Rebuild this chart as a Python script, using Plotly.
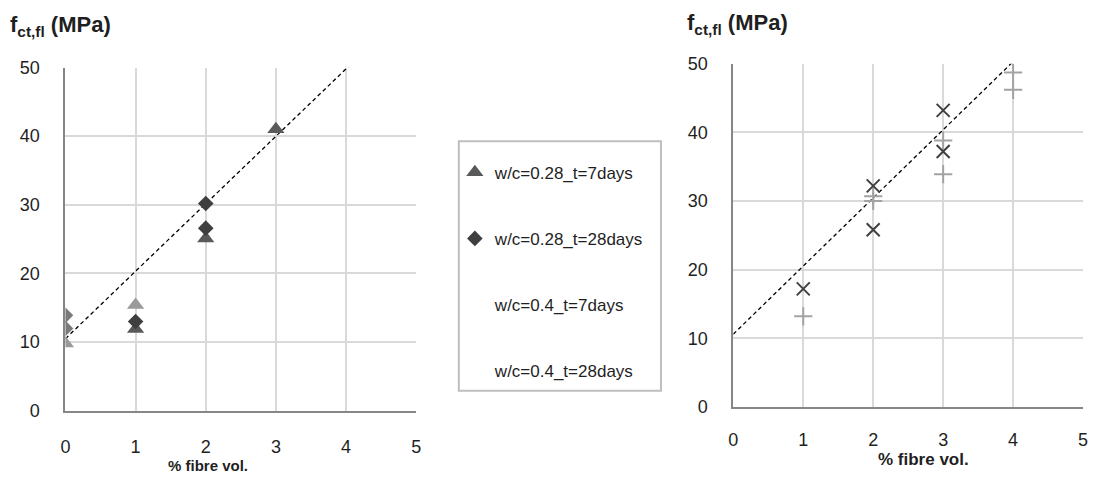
import plotly.graph_objects as go

# ---------------- data ----------------
# Left chart (w/c = 0.28)
tri7_x = [1, 2, 3]
tri7_y = [11.9, 25.1, 41.0]
dia28_x = [1, 2, 2]
dia28_y = [13.0, 26.6, 30.2]
tri7_light_x = [0, 1]
tri7_light_y = [9.8, 15.4]
dia28_light_x = [0, 0]
dia28_light_y = [12.0, 13.9]
fitL_x = [0, 4.05]
fitL_y = [10.5, 50.3]

# Right chart (w/c = 0.4)
x28_x = [1, 2, 2, 3, 3]
x28_y = [17.2, 32.2, 25.8, 43.2, 37.2]
p7_x = [1, 2, 2, 3, 3, 4, 4]
p7_y = [13.2, 30.7, 30.0, 38.8, 33.9, 48.7, 46.2]
fitR_x = [0, 4.0]
fitR_y = [10.6, 50.3]

x_ticks = [0, 1, 2, 3, 4, 5]
y_ticks = [0, 10, 20, 30, 40, 50]
legend_names = ["w/c=0.28_t=7days", "w/c=0.28_t=28days", "w/c=0.4_t=7days", "w/c=0.4_t=28days"]
y_title = "<b>f<sub>ct,fl</sub> (MPa)</b>"
x_title = "<b>% fibre vol.</b>"

# ---------------- layout helpers ----------------
W, H = 1096, 485
FONT = "Liberation Sans, Arial, sans-serif"
TXT = "#1f1f1f"

def px_x(a, b):
    return [a / W, b / W]

def px_y(top, bottom):
    return [1 - bottom / H, 1 - top / H]

fig = go.Figure()

DARK_TRI = "#595959"
DARK_DIA = "#3f3f3f"
LIGHT_TRI = "#9a9a9a"
MID_DIA = "#7a7a7a"
X_COL = "#404040"
P_COL = "#a3a3a3"

# fit lines
fig.add_trace(go.Scatter(x=fitL_x, y=fitL_y, mode="lines", xaxis="x", yaxis="y",
                         line=dict(color="black", width=1.3, dash="4px,3px"),
                         showlegend=False, hoverinfo="skip"))
fig.add_trace(go.Scatter(x=fitR_x, y=fitR_y, mode="lines", xaxis="x2", yaxis="y2",
                         line=dict(color="black", width=1.3, dash="4px,3px"),
                         showlegend=False, hoverinfo="skip"))

# left chart markers
fig.add_trace(go.Scatter(x=tri7_light_x, y=tri7_light_y, mode="markers", xaxis="x", yaxis="y",
                         marker=dict(symbol="triangle-up", size=15, color=LIGHT_TRI),
                         showlegend=False))
fig.add_trace(go.Scatter(x=dia28_light_x, y=dia28_light_y, mode="markers", xaxis="x", yaxis="y",
                         marker=dict(symbol="diamond", size=12, color=MID_DIA),
                         showlegend=False))
fig.add_trace(go.Scatter(x=tri7_x, y=tri7_y, mode="markers", xaxis="x", yaxis="y",
                         name=legend_names[0], legendgroup="a",
                         marker=dict(symbol="triangle-up", size=15, color=DARK_TRI)))
fig.add_trace(go.Scatter(x=dia28_x, y=dia28_y, mode="markers", xaxis="x", yaxis="y",
                         name=legend_names[1], legendgroup="b",
                         marker=dict(symbol="diamond", size=12, color=DARK_DIA)))

# right chart markers (not shown with symbol in legend)
fig.add_trace(go.Scatter(x=p7_x, y=p7_y, mode="markers", xaxis="x2", yaxis="y2",
                         marker=dict(symbol="cross-thin-open", size=13, color=P_COL,
                                     line=dict(color=P_COL, width=2)),
                         showlegend=False))
fig.add_trace(go.Scatter(x=x28_x, y=x28_y, mode="markers", xaxis="x2", yaxis="y2",
                         marker=dict(symbol="x-thin-open", size=13, color=X_COL,
                                     line=dict(color=X_COL, width=2)),
                         showlegend=False))
# legend entries without visible symbols
fig.add_trace(go.Scatter(x=[None], y=[None], mode="markers", xaxis="x2", yaxis="y2",
                         name=legend_names[2], legendgroup="c",
                         marker=dict(color="rgba(0,0,0,0)", size=1)))
fig.add_trace(go.Scatter(x=[None], y=[None], mode="markers", xaxis="x2", yaxis="y2",
                         name=legend_names[3], legendgroup="d",
                         marker=dict(color="rgba(0,0,0,0)", size=1)))

GRID = "#d9d9d9"
AXIS = "#868686"
tickfont = dict(family=FONT, size=18, color=TXT)

common_x = dict(range=[0, 5], tickvals=x_ticks, showgrid=True, gridcolor=GRID, gridwidth=1.5,
                zeroline=False, showline=True, linecolor=AXIS, linewidth=2,
                ticks="", tickfont=tickfont, fixedrange=True, ticklabeloverflow="allow")
common_y = dict(range=[0, 50], tickvals=y_ticks, showgrid=True, gridcolor=GRID, gridwidth=1.5,
                zeroline=False, showline=True, linecolor=AXIS, linewidth=2,
                ticks="", tickfont=tickfont, fixedrange=True, ticklabelstandoff=20,
                ticklabeloverflow="allow")

fig.update_layout(
    width=W, height=H,
    margin=dict(l=0, r=0, t=0, b=0),
    paper_bgcolor="white", plot_bgcolor="white",
    font=dict(family=FONT, color=TXT),
    xaxis=dict(common_x, domain=px_x(61, 415), anchor="y", ticklabelstandoff=19),
    yaxis=dict(common_y, domain=px_y(60, 418), anchor="x"),
    xaxis2=dict(common_x, domain=px_x(735, 1088), anchor="y2", ticklabelstandoff=15),
    yaxis2=dict(common_y, domain=px_y(56, 414), anchor="x2"),
    showlegend=True,
    legend=dict(x=454 / W, y=1 - 151 / H, xanchor="left", yanchor="top",
                bgcolor="rgba(0,0,0,0)", borderwidth=0,
                font=dict(family=FONT, size=17, color=TXT),
                tracegroupgap=41, itemwidth=30),
    shapes=[dict(type="rect", xref="paper", yref="paper",
                 x0=458 / W, x1=662 / W, y0=1 - 397 / H, y1=1 - 137 / H,
                 line=dict(color="#bfbfbf", width=2), fillcolor="rgba(0,0,0,0)")],
    annotations=[
        dict(text=y_title, xref="paper", yref="paper", x=3 / W, y=1.0,
             xanchor="left", yanchor="top", showarrow=False,
             font=dict(family=FONT, size=22, color=TXT)),
        dict(text=y_title, xref="paper", yref="paper", x=686 / W, y=1 + 2 / H,
             xanchor="left", yanchor="top", showarrow=False,
             font=dict(family=FONT, size=22, color=TXT)),
        dict(text=x_title, xref="paper", yref="paper", x=205 / W, y=1 - 475 / H,
             xanchor="center", yanchor="middle", showarrow=False,
             font=dict(family=FONT, size=15, color=TXT)),
        dict(text=x_title, xref="paper", yref="paper", x=927 / W, y=1 - 469 / H,
             xanchor="center", yanchor="middle", showarrow=False,
             font=dict(family=FONT, size=17, color=TXT)),
    ],
)

fig.write_html("out.html", config={"displayModeBar": False},
               post_script="document.body.style.margin='0';")
